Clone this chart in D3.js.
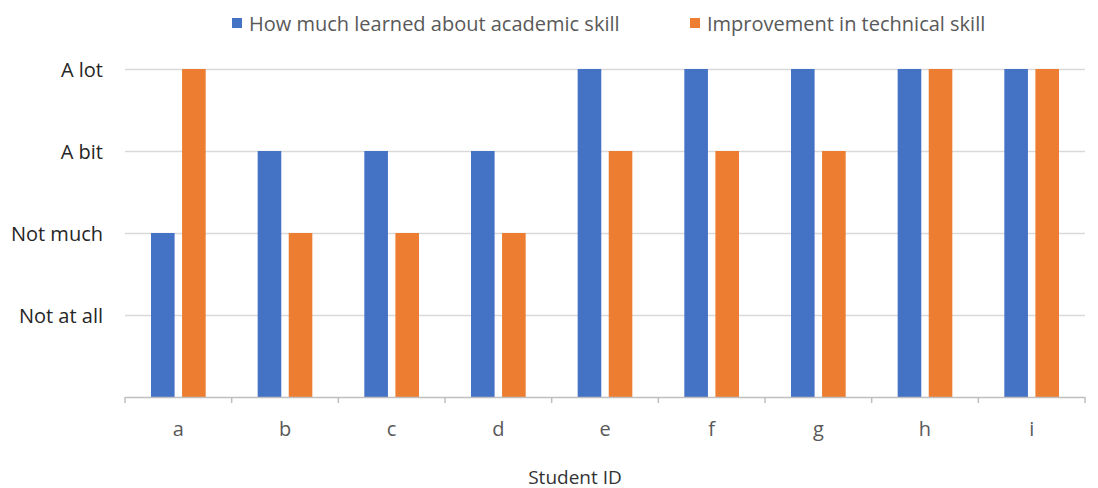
<!DOCTYPE html>
<html>
<head>
	<meta charset="UTF-8">
	<title>Student skills</title>
	<script src="https://cdn.jsdelivr.net/npm/d3@7"></script>
	<style>
		html, body { margin: 0; padding: 0; background: #fff; }
		svg text { font-family: "Open Sans", "Noto Sans", sans-serif; fill: #595959; }
	</style>
</head>
<body>
	<svg id="chart" width="1098" height="488"></svg>
	<script>
		// data (1 = Not at all ... 4 = A lot)
		var students = ["a", "b", "c", "d", "e", "f", "g", "h", "i"];
		var academic = [2, 3, 3, 3, 4, 4, 4, 4, 4];
		var technical = [4, 2, 2, 2, 3, 3, 3, 4, 4];
		var levelLabels = ["Not at all", "Not much", "A bit", "A lot"];
		var seriesNames = ["How much learned about academic skill", "Improvement in technical skill"];
		var colors = ["#4472C4", "#ED7D31"];

		var svg = d3.select("#chart");
		var plotLeft = 125, plotRight = 1085, plotTop = 69, plotBottom = 397;
		var fontSize = "20px";

		var x = d3.scaleBand().domain(students).range([plotLeft, plotRight]).paddingInner(0).paddingOuter(0);
		var y = d3.scaleLinear().domain([0, 4]).range([plotBottom, plotTop]);
		var inner = d3.scaleBand().domain([0, 1]).range([26, x.bandwidth() - 26]).paddingInner(0.24);

		// gridlines
		svg.append("g").selectAll("line").data([1, 2, 3, 4]).join("line")
			.attr("x1", plotLeft).attr("x2", plotRight)
			.attr("y1", d => y(d) + 0.5).attr("y2", d => y(d) + 0.5)
			.attr("stroke", "#d9d9d9").attr("stroke-width", 1.5);

		// y labels
		svg.append("g").selectAll("text").data(levelLabels).join("text")
			.attr("x", 103).attr("y", (d, i) => y(i + 1))
			.attr("text-anchor", "end").attr("dominant-baseline", "central")
			.style("font-size", fontSize).style("fill", "#262626").text(d => d);

		// bars
		var series = [academic, technical];
		series.forEach(function(vals, s) {
			svg.append("g").selectAll("rect").data(vals).join("rect")
				.attr("x", (d, i) => x(students[i]) + inner(s))
				.attr("width", inner.bandwidth())
				.attr("y", d => y(d))
				.attr("height", d => plotBottom - y(d))
				.attr("fill", colors[s]);
		});

		// x axis
		var xAxis = svg.append("g");
		xAxis.append("line").attr("x1", plotLeft).attr("x2", plotRight)
			.attr("y1", plotBottom + 0.5).attr("y2", plotBottom + 0.5)
			.attr("stroke", "#bfbfbf").attr("stroke-width", 1.5);
		xAxis.selectAll("line.tick").data(d3.range(students.length + 1)).join("line")
			.attr("class", "tick")
			.attr("x1", i => plotLeft + i * x.step()).attr("x2", i => plotLeft + i * x.step())
			.attr("y1", plotBottom).attr("y2", plotBottom + 6)
			.attr("stroke", "#bfbfbf").attr("stroke-width", 1.5);
		xAxis.selectAll("text").data(students).join("text")
			.attr("x", d => x(d) + x.bandwidth() / 2).attr("y", 428)
			.attr("text-anchor", "middle").attr("dominant-baseline", "central")
			.style("font-size", fontSize).text(d => d);

		svg.append("text").attr("x", 575).attr("y", 477)
			.attr("text-anchor", "middle").attr("dominant-baseline", "central")
			.style("font-size", "19px").style("fill", "#333").text("Student ID");

		// legend
		var legendX = [232, 690];
		seriesNames.forEach(function(name, s) {
			var g = svg.append("g").attr("transform", "translate(" + legendX[s] + ",23)");
			g.append("rect").attr("x", 0).attr("y", -5).attr("width", 10).attr("height", 10).attr("fill", colors[s]);
			g.append("text").attr("x", 17).attr("y", 0).attr("dominant-baseline", "central")
				.style("font-size", fontSize).text(name);
		});
	</script>
</body>
</html>
